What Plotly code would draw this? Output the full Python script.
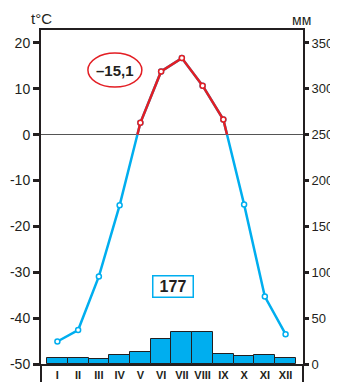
import plotly.graph_objects as go

months = ['I', 'II', 'III', 'IV', 'V', 'VI', 'VII', 'VIII', 'IX', 'X', 'XI', 'XII']
temp = [-45.1, -42.6, -30.9, -15.4, 2.6, 13.8, 16.7, 10.7, 3.3, -15.2, -35.3, -43.5]
precip = [7, 7, 6, 10, 13, 27, 35, 35, 11, 9, 10, 7]
t_ticks = [20, 10, 0, -10, -20, -30, -40, -50]
mm_ticks = [0, 50, 100, 150, 200, 250, 300, 350]
mean_label = '–15,1'
total_label = '177'

CYAN = '#00aeef'
RED = '#e31e24'
INK = '#231f20'
FONT = 'Liberation Sans, Arial, sans-serif'

x = list(range(len(months)))

# red part of the line: from first zero crossing to the last one
red_x, red_y = [], []
for i in range(len(temp) - 1):
    a, b = temp[i], temp[i + 1]
    if a <= 0 < b:
        red_x.append(i + (0 - a) / (b - a)); red_y.append(0)
    if a > 0:
        red_x.append(i); red_y.append(a)
    if a > 0 >= b:
        red_x.append(i + a / (a - b)); red_y.append(0)
warm_x = [i for i in x if temp[i] > 0]
warm_y = [temp[i] for i in warm_x]

t_lo, t_hi = -50, 22.83

fig = go.Figure()
fig.add_trace(go.Bar(x=x, y=precip, yaxis='y2', width=1,
                     marker=dict(color=CYAN, line=dict(color=INK, width=1))))
fig.add_trace(go.Scatter(x=x, y=temp, mode='lines+markers',
                         line=dict(color=CYAN, width=2.5),
                         marker=dict(symbol='circle', size=5, color='white',
                                     line=dict(color=CYAN, width=1.5))))
fig.add_trace(go.Scatter(x=red_x, y=red_y, mode='lines',
                         line=dict(color=RED, width=2.5)))
fig.add_trace(go.Scatter(x=warm_x, y=warm_y, mode='markers',
                         marker=dict(symbol='circle', size=5, color='white',
                                     line=dict(color=RED, width=1.5))))

# page body has an 8px margin, so the figure is 8px smaller than the window
fig.update_layout(
    width=330, height=374,
    margin=dict(l=33, r=35, t=22, b=18),
    paper_bgcolor='white', plot_bgcolor='white',
    showlegend=False, bargap=0,
    font=dict(family=FONT, color=INK),
    xaxis=dict(range=[-0.79, 11.84], tickvals=x,
               ticktext=['<b>%s</b>' % m for m in months],
               tickfont=dict(size=11), ticks='', showgrid=False,
               zeroline=False, showline=True, mirror=True,
               linecolor=INK, linewidth=1.5, automargin=False),
    yaxis=dict(range=[t_lo, t_hi], tickvals=t_ticks,
               ticktext=[str(v) for v in t_ticks],
               tickfont=dict(size=14), ticks='outside', ticklen=6,
               tickwidth=2.5, tickcolor=INK, showgrid=False,
               zeroline=True, zerolinecolor='#555', zerolinewidth=1,
               showline=True, linecolor=INK, linewidth=2, automargin=False),
    yaxis2=dict(range=[250 + 5 * t_lo, 250 + 5 * t_hi], overlaying='y',
                side='right', tickvals=mm_ticks,
                ticktext=[str(v) for v in mm_ticks], tickfont=dict(size=13),
                ticks='outside', ticklen=4, tickwidth=2.5, tickcolor=INK,
                showgrid=False, zeroline=False, showline=True,
                linecolor=INK, linewidth=2, automargin=False),
)

# axis lines run on below the plot
for xp in (0, 1):
    fig.add_shape(type='line', xref='paper', yref='paper', x0=xp, x1=xp,
                  y0=0, y1=-0.06, line=dict(color=INK, width=2))

fig.add_shape(type='circle', xref='paper', yref='paper',
              x0=0.179, x1=0.385, y0=0.829, y1=0.931,
              line=dict(color=RED, width=1.5))

fig.add_annotation(xref='paper', yref='paper', x=0.282, y=0.880,
                   xanchor='center', yanchor='middle',
                   text='<b>%s</b>' % mean_label, showarrow=False,
                   font=dict(size=15, color=INK))
fig.add_annotation(xref='paper', yref='paper', x=0.502, y=0.2335,
                   xanchor='center', yanchor='middle',
                   text='<b>%s</b>' % total_label, showarrow=False,
                   font=dict(size=16, color=INK), width=37, height=18,
                   borderpad=1, bordercolor=CYAN, borderwidth=1.5,
                   bgcolor='white')
fig.add_annotation(xref='paper', yref='paper', x=0.003, y=1.033,
                   text='t°C', showarrow=False, xanchor='center',
                   yanchor='middle', font=dict(size=15, color=INK))
fig.add_annotation(xref='paper', yref='paper', x=0.996, y=1.030,
                   text='мм', showarrow=False, xanchor='center',
                   yanchor='middle', font=dict(size=14, color=INK))

fig.write_html('out.html')
